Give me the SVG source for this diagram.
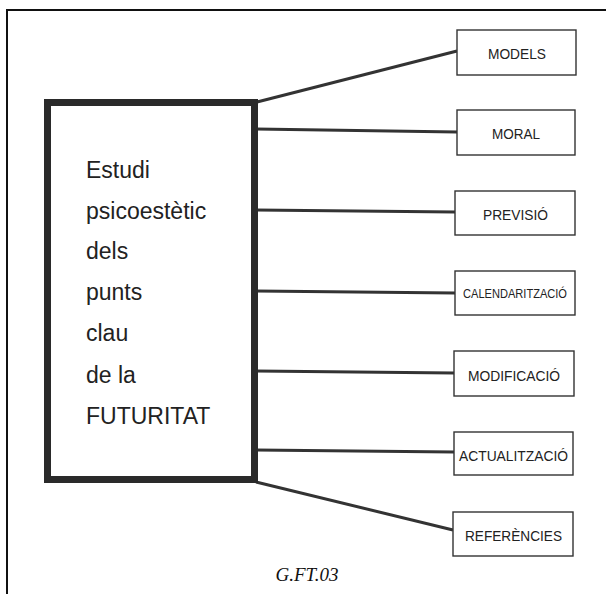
<svg xmlns="http://www.w3.org/2000/svg" width="606" height="594" viewBox="0 0 606 594">
<style>
.frame{fill:none;stroke:#111;stroke-width:2}
.main{fill:#fff;stroke:#2a2a2a;stroke-width:7}
.box{fill:#fff;stroke:#333;stroke-width:1.4}
.conn{fill:none;stroke:#333;stroke-width:3}
.big{font-family:"Liberation Sans",Arial,sans-serif;font-size:23px;fill:#222}
.lbl{font-family:"Liberation Sans",Arial,sans-serif;font-size:15.5px;fill:#222;text-anchor:middle}
.cap{font-family:"Liberation Serif","Times New Roman",serif;font-style:italic;font-size:19px;fill:#111;text-anchor:middle}
</style>
<rect width="606" height="594" fill="#fff"/>
<path class="frame" d="M7,594 V10 H606"/>
<g id="connectors">
<line class="conn" x1="257" y1="102" x2="457" y2="51"/>
<line class="conn" x1="256" y1="129" x2="457" y2="132"/>
<line class="conn" x1="256" y1="210" x2="455" y2="212"/>
<line class="conn" x1="256" y1="291" x2="455" y2="293"/>
<line class="conn" x1="256" y1="371" x2="454" y2="373"/>
<line class="conn" x1="256" y1="450" x2="454" y2="452"/>
<line class="conn" x1="256" y1="482" x2="453" y2="530"/>
</g>
<g id="main">
<rect class="main" x="47.5" y="102.5" width="207" height="377"/>
<text class="big" x="86" y="178">Estudi</text>
<text class="big" x="86" y="219">psicoestètic</text>
<text class="big" x="86" y="259">dels</text>
<text class="big" x="86" y="300">punts</text>
<text class="big" x="86" y="341">clau</text>
<text class="big" x="86" y="383">de la</text>
<text class="big" x="86" y="424">FUTURITAT</text>
</g>
<g id="models">
<rect class="box" x="457" y="30" width="119" height="45"/>
<text class="lbl" x="517" y="58.5" textLength="58" lengthAdjust="spacingAndGlyphs">MODELS</text>
</g>
<g id="moral">
<rect class="box" x="457" y="110" width="118" height="45"/>
<text class="lbl" x="516" y="138.5" textLength="48" lengthAdjust="spacingAndGlyphs">MORAL</text>
</g>
<g id="previsio">
<rect class="box" x="455" y="191" width="120" height="44"/>
<text class="lbl" x="515.5" y="219.5" textLength="65" lengthAdjust="spacingAndGlyphs">PREVISIÓ</text>
</g>
<g id="calendaritzacio">
<rect class="box" x="455" y="271" width="120" height="44"/>
<text class="lbl" x="515" y="298" style="font-size:13.5px" textLength="104" lengthAdjust="spacingAndGlyphs">CALENDARITZACIÓ</text>
</g>
<g id="modificacio">
<rect class="box" x="454" y="351" width="120" height="45"/>
<text class="lbl" x="514" y="380.5" textLength="92" lengthAdjust="spacingAndGlyphs">MODIFICACIÓ</text>
</g>
<g id="actualitzacio">
<rect class="box" x="454" y="432" width="119" height="43"/>
<text class="lbl" x="513.5" y="460.5" textLength="109" lengthAdjust="spacingAndGlyphs">ACTUALITZACIÓ</text>
</g>
<g id="referencies">
<rect class="box" x="453" y="512" width="120" height="44"/>
<text class="lbl" x="513.5" y="541" textLength="97" lengthAdjust="spacingAndGlyphs">REFERÈNCIES</text>
</g>
<text class="cap" x="307" y="581">G.FT.03</text>
</svg>
